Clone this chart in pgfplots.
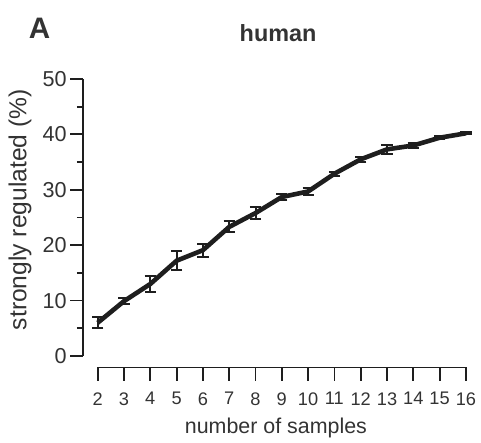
\documentclass[border=0pt]{standalone}
\usepackage{fontspec}
\setmainfont{Liberation Sans}
\usepackage{pgfplots}
\pgfplotsset{compat=1.18}
\definecolor{txt}{HTML}{333333}
\definecolor{ln}{HTML}{1E1E1E}
\begin{document}
\begin{tikzpicture}
\useasboundingbox (-41.65pt,-43.5pt) rectangle (198.85pt,178pt);
% y axis + data
\begin{axis}[
  at={(0pt,0pt)}, anchor=south west,
  x=13.15pt, y=2.77pt,
  xmin=1.452, xmax=16, ymin=0, ymax=50,
  axis y line*=left, axis x line=none,
  axis line style={-, line width=0.9pt, color=ln},
  ytick={0,10,...,50}, minor ytick={5,15,...,45},
  tick align=outside,
  major tick length=6.6pt, minor tick length=3.2pt,
  every tick/.style={line width=0.9pt, color=ln},
  /pgf/number format/assume math mode=true,
  yticklabel style={font=\fontsize{10.8}{12}\selectfont, text=txt, inner sep=1.5pt},
  clip=false,
]
\addplot[color=ln, line width=2.3pt, line join=round,
  error bars/.cd, y dir=both, y explicit,
  error bar style={line width=1pt, color=ln},
  error mark options={rotate=90, mark size=2.8pt, line width=1pt, color=ln}]
  table[x=x, y=y, y error=e] {
x y e
2 6.0 1.0
3 9.9 0.6
4 13.0 1.4
5 17.2 1.7
6 19.1 1.2
7 23.3 1.0
8 25.8 1.1
9 28.7 0.5
10 29.7 0.6
11 32.9 0.4
12 35.5 0.5
13 37.3 0.8
14 38.0 0.4
15 39.4 0.3
16 40.2 0.2
};
\node[font=\bfseries\fontsize{11.7}{14}\selectfont, text=txt] at (rel axis cs:0.509,1.166) {human};
\node[font=\bfseries\fontsize{14.8}{17}\selectfont, text=txt] at (rel axis cs:-0.1145,1.184) {A};
\node[font=\fontsize{12.3}{14}\selectfont, text=txt, rotate=90] at (rel axis cs:-0.1654,0.528) {strongly regulated (\%)};
\end{axis}
% x axis
\begin{axis}[
  at={(7.2pt,-5.75pt)}, anchor=south west,
  x=13.15pt, y=1pt,
  xmin=2, xmax=16, ymin=0, ymax=1,
  axis x line*=bottom, axis y line=none,
  axis line style={-, line width=0.9pt, color=ln},
  xtick={2,3,...,16},
  tick align=outside, major tick length=6.6pt,
  every tick/.style={line width=0.9pt, color=ln},
  /pgf/number format/assume math mode=true,
  xticklabel style={font=\fontsize{9.1}{10}\selectfont, text=txt, inner sep=2pt, yshift=-3.6pt},
  xlabel={number of samples},
  xlabel style={font=\fontsize{10.7}{13}\selectfont, text=txt, at={(axis description cs:0.484,0)}, yshift=-21.75pt},
]
\end{axis}
\end{tikzpicture}
\end{document}
